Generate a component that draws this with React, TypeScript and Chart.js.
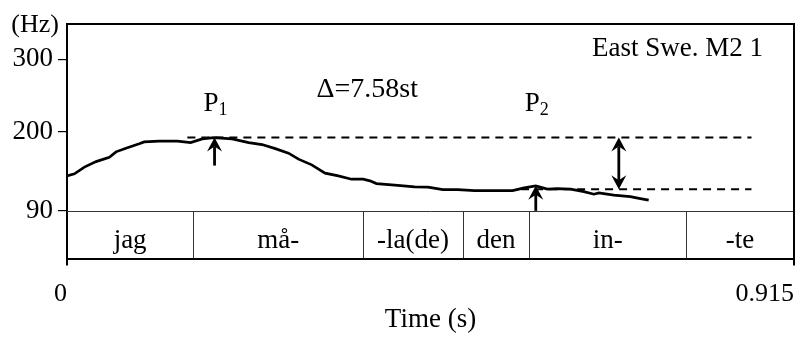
import React, { useEffect, useRef } from 'react';
import { Chart, registerables } from 'chart.js';

Chart.register(...registerables);

const FONT = "'Liberation Serif', 'Times New Roman', serif";

// pitch contour (time in s, F0 in Hz)
const TIME_S = [
  0.0, 0.0094, 0.0219, 0.0366, 0.0533, 0.0617, 0.0742, 0.0909, 0.0971, 0.1159,
  0.1389, 0.1556, 0.1702, 0.1848, 0.2078, 0.2287, 0.2454, 0.2622, 0.2788, 0.2914,
  0.308, 0.3248, 0.3415, 0.3581, 0.3728, 0.3812, 0.3895, 0.4125, 0.4376, 0.4543,
  0.4731, 0.4918, 0.5128, 0.5378, 0.5608, 0.5754, 0.59, 0.6046, 0.6171, 0.6338,
  0.6506, 0.6632, 0.6694, 0.6882, 0.709, 0.7216, 0.7321,
];
const F0_HZ = [
  138.5, 141.3, 150.6, 158.3, 164.4, 171.8, 176.9, 182.9, 185.6, 186.6,
  186.6, 184.7, 189.8, 191.6, 189.8, 184.7, 181.9, 176.3, 170.0, 161.7,
  153.8, 142.3, 138.5, 133.9, 133.9, 131.6, 127.8, 125.6, 123.3, 122.8,
  119.5, 119.5, 118.1, 118.1, 118.1, 121.9, 124.7, 120.1, 120.9, 120.1,
  116.7, 113.1, 114.9, 111.8, 109.8, 107.0, 104.8,
];

const X_TICKS = [0, 0.915];
const Y_TICKS = [90, 200, 300];
const Y_MIN = 24;
const Y_MAX = 349;
const TIER_TOP_HZ = 90;

// segmentation tier
const SEG_BOUNDS = [0, 0.1589, 0.3728, 0.4981, 0.5817, 0.7792, 0.915];
const SEG_LABELS = ['jag', 'må-', '-la(de)', 'den', 'in-', '-te'];

// dashed reference levels
const P1_LINE_T = [0.1515, 0.8615];
const P1_HZ = 191.6;
const P2_LINE_T = [0.5715, 0.8615];
const P2_HZ = 120.1;

// arrows
const ARROW_T = [0.1857, 0.59, 0.6945];
const ARROW_FROM_HZ = [152.8, 90, 120.1];
const ARROW_TO_HZ = [191.6, 124.7, 191.6];
const ARROW_DOUBLE = [false, false, true];

// labels
const PEAK_SUBS = ['1', '2'];
const PEAK_T = [0.1857, 0.59];
const PEAK_LABEL_HZ = 229;
const DELTA_LABEL = 'Δ=7.58st';
const DELTA_T = 0.3778;
const DELTA_HZ = 248.3;
const SPEAKER_LABEL = 'East Swe. M2 1';
const Y_UNIT = '(Hz)';
const X_TITLE = 'Time (s)';

function drawHead(ctx: CanvasRenderingContext2D, x: number, y: number, dir: number) {
  // dir = -1 pointing up, +1 pointing down
  const len = 14;
  const half = 7.5;
  const notch = 9;
  ctx.beginPath();
  ctx.moveTo(x, y);
  ctx.lineTo(x - half, y - dir * len);
  ctx.lineTo(x, y - dir * notch);
  ctx.lineTo(x + half, y - dir * len);
  ctx.closePath();
  ctx.fill();
}

const annotatePlugin = {
  id: 'annotate',
  afterDraw(chart: any) {
    const { ctx, chartArea: ca, scales } = chart;
    const xs = scales.x;
    const ys = scales.y;
    ctx.save();
    ctx.fillStyle = '#000';
    ctx.strokeStyle = '#000';

    // tier top line and dividers
    const y90 = Math.round(ys.getPixelForValue(TIER_TOP_HZ)) + 0.5;
    ctx.lineWidth = 1;
    ctx.strokeStyle = '#333';
    ctx.beginPath();
    ctx.moveTo(ca.left, y90);
    ctx.lineTo(ca.right, y90);
    for (let i = 1; i < SEG_BOUNDS.length - 1; i++) {
      const px = Math.round(xs.getPixelForValue(SEG_BOUNDS[i])) + 0.5;
      ctx.moveTo(px, y90);
      ctx.lineTo(px, ca.bottom);
    }
    ctx.stroke();

    ctx.font = `27px ${FONT}`;
    ctx.textAlign = 'center';
    ctx.textBaseline = 'alphabetic';
    for (let i = 0; i < SEG_LABELS.length; i++) {
      const cx = (xs.getPixelForValue(SEG_BOUNDS[i]) + xs.getPixelForValue(SEG_BOUNDS[i + 1])) / 2;
      ctx.fillText(SEG_LABELS[i], cx, ca.bottom - 11);
    }

    // frame: top and right
    ctx.strokeStyle = '#000';
    ctx.lineWidth = 2;
    ctx.beginPath();
    ctx.moveTo(ca.left, ca.top);
    ctx.lineTo(ca.right, ca.top);
    ctx.lineTo(ca.right, ca.bottom);
    ctx.stroke();

    // arrows
    ctx.lineWidth = 2.8;
    for (let i = 0; i < ARROW_T.length; i++) {
      const ax = xs.getPixelForValue(ARROW_T[i]);
      const y0 = ys.getPixelForValue(ARROW_FROM_HZ[i]);
      const y1 = ys.getPixelForValue(ARROW_TO_HZ[i]);
      ctx.beginPath();
      ctx.moveTo(ax, ARROW_DOUBLE[i] ? y0 - 9 : y0);
      ctx.lineTo(ax, y1 + 9);
      ctx.stroke();
      drawHead(ctx, ax, y1, -1);
      if (ARROW_DOUBLE[i]) drawHead(ctx, ax, y0, 1);
    }

    // P labels
    ctx.textAlign = 'left';
    for (let i = 0; i < PEAK_SUBS.length; i++) {
      ctx.font = `27px ${FONT}`;
      const wP = ctx.measureText('P').width;
      ctx.font = `18px ${FONT}`;
      const wS = ctx.measureText(PEAK_SUBS[i]).width;
      const cx = xs.getPixelForValue(PEAK_T[i]) + 1;
      const by = ys.getPixelForValue(PEAK_LABEL_HZ);
      const left = cx - (wP + wS) / 2;
      ctx.font = `27px ${FONT}`;
      ctx.fillText('P', left, by);
      ctx.font = `18px ${FONT}`;
      ctx.fillText(PEAK_SUBS[i], left + wP, by + 4);
    }

    // delta label
    ctx.font = `28px ${FONT}`;
    ctx.textAlign = 'center';
    ctx.fillText(DELTA_LABEL, xs.getPixelForValue(DELTA_T), ys.getPixelForValue(DELTA_HZ));

    // speaker label
    ctx.font = `27px ${FONT}`;
    ctx.textAlign = 'right';
    ctx.fillText(SPEAKER_LABEL, ca.right - 31, ca.top + 32);

    // y unit
    ctx.font = `26px ${FONT}`;
    ctx.textAlign = 'right';
    ctx.fillText(Y_UNIT, ca.left - 8, 32);

    ctx.restore();
  },
};

export default function App() {
  const ref = useRef<HTMLCanvasElement | null>(null);

  useEffect(() => {
    if (!ref.current) return;
    const contour = TIME_S.map((t, i) => ({ x: t, y: F0_HZ[i] }));
    const dashStyle = {
      borderColor: '#000',
      borderWidth: 2,
      borderDash: [8, 6],
      pointRadius: 0,
      fill: false,
    };
    const chart = new Chart(ref.current, {
      type: 'line',
      data: {
        datasets: [
          {
            label: 'P1 level',
            data: P1_LINE_T.map((t) => ({ x: t, y: P1_HZ })),
            ...dashStyle,
          },
          {
            label: 'P2 level',
            data: P2_LINE_T.map((t) => ({ x: t, y: P2_HZ })),
            ...dashStyle,
          },
          {
            label: 'F0',
            data: contour,
            borderColor: '#000',
            borderWidth: 2.7,
            pointRadius: 0,
            tension: 0,
            fill: false,
          },
        ],
      },
      options: {
        animation: false,
        responsive: true,
        maintainAspectRatio: false,
        layout: { padding: { top: 24, right: 9, left: 0, bottom: 0 } },
        plugins: {
          legend: { display: false },
          tooltip: { enabled: false },
        },
        scales: {
          x: {
            type: 'linear',
            min: 0,
            max: 0.915,
            afterBuildTicks: (s: any) => {
              s.ticks = X_TICKS.map((v) => ({ value: v }));
            },
            afterFit: (s: any) => {
              s.height = 79.5;
            },
            grid: {
              drawOnChartArea: false,
              drawTicks: true,
              tickLength: 7,
              color: '#000',
              lineWidth: 2,
            },
            border: { display: true, color: '#000', width: 2 },
            ticks: {
              align: 'end',
              padding: 13,
              color: '#000',
              font: { family: FONT, size: 26 },
              maxRotation: 0,
              callback: (v: any) => String(v),
            },
            title: {
              display: true,
              text: X_TITLE,
              color: '#000',
              font: { family: FONT, size: 27 },
              padding: { top: 0, bottom: 2 },
            },
          },
          y: {
            type: 'linear',
            min: Y_MIN,
            max: Y_MAX,
            afterBuildTicks: (s: any) => {
              s.ticks = Y_TICKS.map((v) => ({ value: v }));
            },
            afterFit: (s: any) => {
              s.width = 67;
            },
            grid: {
              drawOnChartArea: false,
              drawTicks: true,
              tickLength: 9,
              color: '#000',
              lineWidth: 1.2,
            },
            border: { display: true, color: '#000', width: 2 },
            ticks: {
              padding: 5,
              color: '#000',
              font: { family: FONT, size: 27 },
              callback: (v: any) => String(v),
            },
          },
        },
      },
      plugins: [annotatePlugin],
    });
    return () => chart.destroy();
  }, []);

  return (
    <div style={{ position: 'fixed', left: 0, top: 0, width: 807, height: 338, background: '#fff' }}>
      <canvas ref={ref} />
    </div>
  );
}
